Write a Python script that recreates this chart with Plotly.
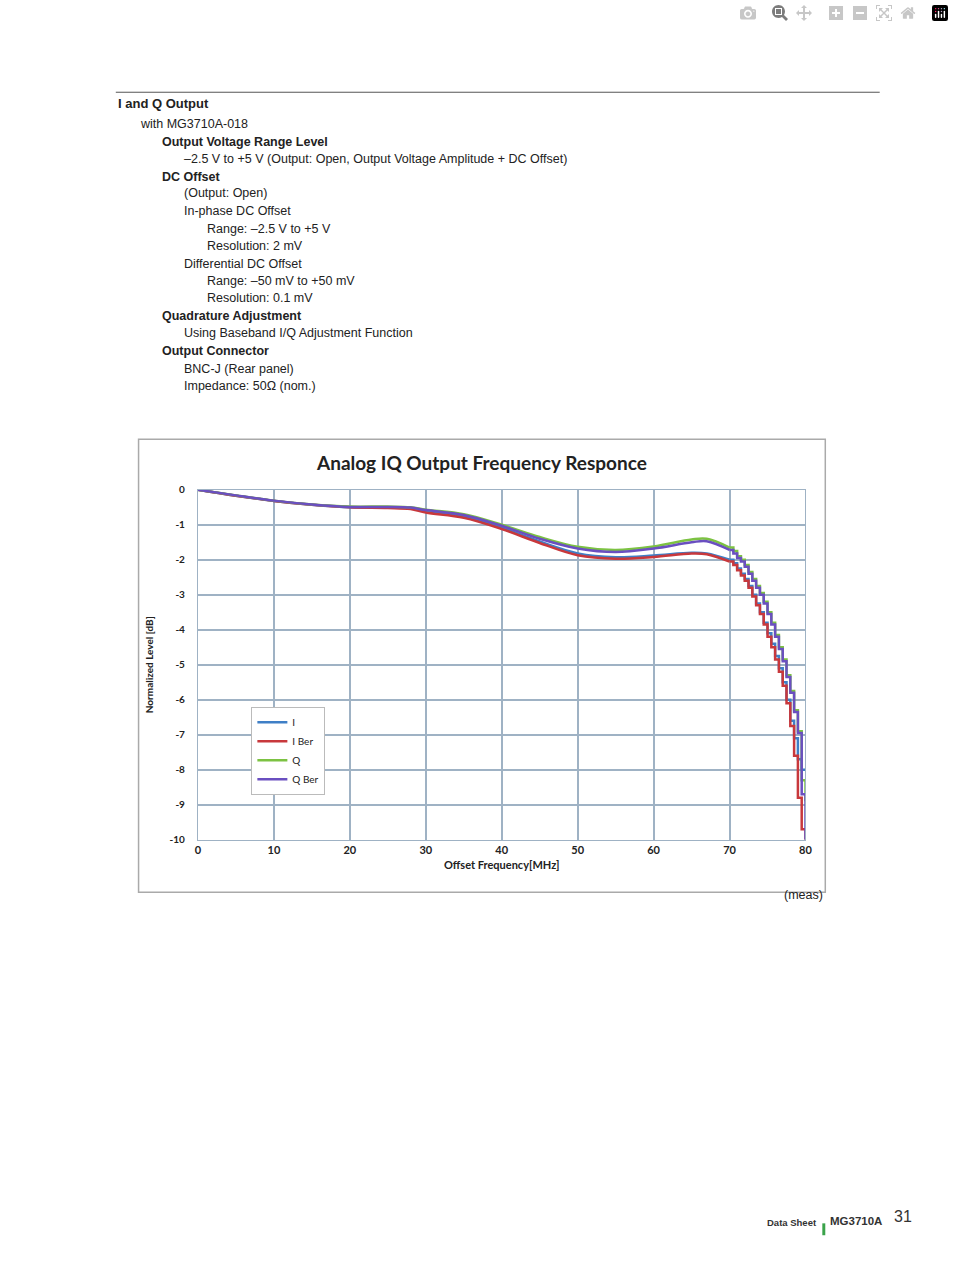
import plotly.graph_objects as go

W, H = 954, 1268

# smooth part of the response (MHz, dB)
freq_smooth = [0, 5, 10, 15, 20, 25, 28, 30, 35, 40, 45, 50, 55, 60, 65, 67, 70]
i_smooth = [0, -0.17, -0.32, -0.43, -0.5, -0.5, -0.52, -0.6, -0.75, -1.08, -1.48, -1.82, -1.93, -1.88, -1.8, -1.82, -2.0]
iber_smooth = [0, -0.17, -0.32, -0.43, -0.5, -0.52, -0.55, -0.65, -0.8, -1.12, -1.52, -1.87, -1.97, -1.92, -1.82, -1.84, -2.05]
q_smooth = [0, -0.16, -0.31, -0.42, -0.48, -0.48, -0.5, -0.57, -0.7, -1.0, -1.35, -1.63, -1.72, -1.62, -1.42, -1.4, -1.65]
qber_smooth = [0, -0.16, -0.31, -0.42, -0.49, -0.49, -0.51, -0.58, -0.72, -1.03, -1.4, -1.68, -1.78, -1.68, -1.5, -1.47, -1.72]

# stepped roll-off part (0.5 MHz steps)
freq_step = [70, 70.5, 71, 71.5, 72, 72.5, 73, 73.5, 74, 74.5, 75, 75.5, 76, 76.5, 77, 77.5, 78, 78.5, 79, 79.5, 80]
i_step = [-2.0, -2.1, -2.25, -2.4, -2.55, -2.75, -3.0, -3.25, -3.5, -3.8, -4.1, -4.4, -4.75, -5.1, -5.5, -6.0, -6.6, -7.1, -7.7, -8.0, -8.0]
iber_step = [-2.05, -2.15, -2.3, -2.45, -2.6, -2.8, -3.05, -3.3, -3.55, -3.85, -4.2, -4.5, -4.85, -5.2, -5.6, -6.1, -6.75, -7.6, -8.8, -9.7, -10.0]
q_step = [-1.65, -1.75, -1.9, -2.0, -2.15, -2.35, -2.55, -2.75, -2.95, -3.2, -3.5, -3.8, -4.15, -4.5, -4.85, -5.3, -5.75, -6.3, -6.9, -8.3, -8.9]
qber_step = [-1.72, -1.82, -1.95, -2.05, -2.2, -2.4, -2.6, -2.8, -3.0, -3.25, -3.55, -3.85, -4.2, -4.55, -4.9, -5.35, -5.8, -6.35, -6.95, -8.7, -10.0]

names = ["I", "I Ber", "Q", "Q Ber"]
colors = ["#3f7fc6", "#c8383c", "#7cc242", "#6a4fc0"]
smooth = [i_smooth, iber_smooth, q_smooth, qber_smooth]
step = [i_step, iber_step, q_step, qber_step]

x_ticks = [0, 10, 20, 30, 40, 50, 60, 70, 80]
y_ticks = [0, -1, -2, -3, -4, -5, -6, -7, -8, -9, -10]

fig = go.Figure()
for n, c, s, st in zip(names, colors, smooth, step):
    fig.add_trace(go.Scatter(x=freq_smooth, y=s, mode="lines", name=n, legendgroup=n,
                             line=dict(color=c, width=2.5, shape="spline")))
    fig.add_trace(go.Scatter(x=freq_step, y=st, mode="lines", name=n, legendgroup=n, showlegend=False,
                             line=dict(color=c, width=2.5, shape="hv")))

def py(p):
    return 1 - p / H

x0, x1 = 197 / W, 811 / W
fig.update_layout(
    width=W, height=H, margin=dict(l=0, r=0, t=0, b=0),
    paper_bgcolor="white", plot_bgcolor="white",
    font=dict(family="Liberation Sans, Arial", color="#222"),
    showlegend=True,
    legend=dict(x=251 / W, y=py(707), xanchor="left", yanchor="top", bgcolor="white",
                bordercolor="#bbb", borderwidth=1, font=dict(size=10, family="Lato"),
                itemwidth=30, tracegroupgap=0),
    xaxis=dict(domain=[x0, x1], range=[0, 80], tickvals=x_ticks,
               ticktext=["<b>%d</b>" % v for v in x_ticks], showgrid=True,
               gridcolor="#9fb2c4", gridwidth=1.5, zeroline=False, showline=True, linecolor="#9fb2c4",
               mirror=True, ticks="", tickfont=dict(size=11, family="Lato", color="#222"),
               title=dict(text="<b>Offset Frequency[MHz]</b>", font=dict(size=11, family="Lato"), standoff=6)),
    yaxis=dict(domain=[py(841), py(488)], range=[-10, 0], tickvals=y_ticks,
               ticktext=["<b>%d</b>" % v for v in y_ticks], showgrid=True,
               gridcolor="#9fb2c4", gridwidth=1.5, zeroline=False, showline=True, linecolor="#9fb2c4",
               mirror=True, ticks="", ticklabelstandoff=10, tickfont=dict(size=10, family="Lato", color="#222"),
               title=dict(text="<b>Normalized Level [dB]</b>", font=dict(size=10, family="Lato"), standoff=14)),
)

shapes = [
    dict(type="line", xref="paper", yref="paper", x0=114 / W, x1=886 / W, y0=py(87), y1=py(87),
         line=dict(color="#555", width=1)),
    dict(type="rect", xref="paper", yref="paper", x0=137 / W, x1=831 / W, y0=py(894), y1=py(437),
         line=dict(color="#aaa", width=1.5), layer="below"),
    dict(type="rect", xref="paper", yref="paper", x0=828 / W, x1=831 / W, y0=py(1240), y1=py(1228),
         fillcolor="#3aa34a", line=dict(width=0)),
]
for yv in [-5, -8]:
    shapes.append(dict(type="line", xref="x", yref="y", x0=0, x1=80, y0=yv, y1=yv,
                       line=dict(color="#e0a0a0", width=1.2), layer="below"))
fig.update_layout(shapes=shapes)

page_text = [
    (114, 98, "<b>I and Q Output</b>"),
    (136, 119, "with MG3710A-018"),
    (159, 137, "<b>Output Voltage Range Level</b>"),
    (181, 154, "\u20132.5 V to +5 V (Output: Open, Output Voltage Amplitude + DC Offset)"),
    (159, 172, "<b>DC Offset</b>"),
    (181, 189, "(Output: Open)"),
    (181, 207, "In-phase DC Offset"),
    (204, 225, "Range: \u20132.5 V to +5 V"),
    (204, 242, "Resolution: 2 mV"),
    (181, 260, "Differential DC Offset"),
    (204, 277, "Range: \u201350 mV to +50 mV"),
    (204, 295, "Resolution: 0.1 mV"),
    (159, 313, "<b>Quadrature Adjustment</b>"),
    (181, 330, "Using Baseband I/Q Adjustment Function"),
    (159, 348, "<b>Output Connector</b>"),
    (181, 366, "BNC-J (Rear panel)"),
    (181, 383, "Impedance: 50\u03a9 (nom.)"),
]
ann = []
for xp, yp, t in page_text:
    ann.append(dict(text=t, x=xp / W, y=py(yp), xref="paper", yref="paper", xanchor="left",
                    yanchor="middle", showarrow=False, font=dict(size=13 if "I and Q" in t else 12.5)))
ann += [
    dict(text="<b>Analog IQ Output Frequency Responce</b>", x=484 / W, y=py(460), xref="paper", yref="paper",
         showarrow=False, font=dict(size=19, family="Lato", color="#222")),
    dict(text="(meas)", x=831 / W, y=py(906), xref="paper", yref="paper", xanchor="right",
         showarrow=False, font=dict(size=12.5)),
    dict(text="<b>Data Sheet</b>", x=825 / W, y=py(1235), xref="paper", yref="paper", xanchor="right",
         showarrow=False, font=dict(size=9.5, color="#333")),
    dict(text="<b>MG3710A</b>", x=834 / W, y=py(1234), xref="paper", yref="paper", xanchor="left",
         showarrow=False, font=dict(size=11.5, color="#333")),
    dict(text="31", x=898 / W, y=py(1232), xref="paper", yref="paper", xanchor="left",
         showarrow=False, font=dict(size=16, color="#333")),
]
fig.update_layout(annotations=ann)

# remove the default page margin so the figure sits at the window origin
fig.write_html("out.html", post_script="document.body.style.margin='0';document.body.style.overflow='hidden';")
